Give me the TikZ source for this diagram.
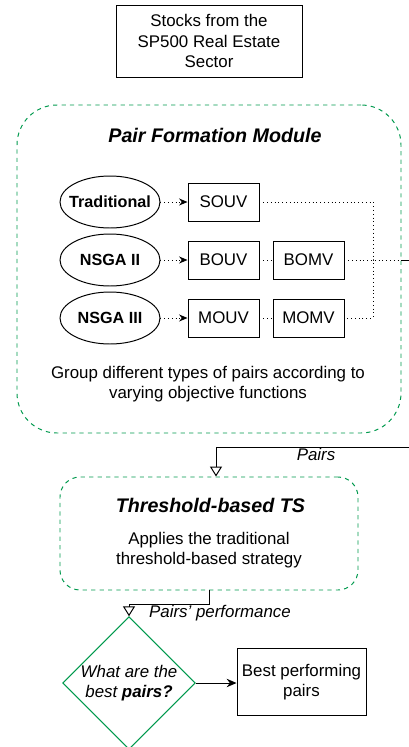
\documentclass[tikz,border=0pt]{standalone}
\usepackage{fontspec}
\setmainfont{Liberation Sans}
\usepackage{tikz}
\usetikzlibrary{arrows.meta}
\usetikzlibrary{positioning}
\usetikzlibrary{shapes.geometric}
\definecolor{modgreen}{RGB}{0,153,77}

\begin{document}
\begin{tikzpicture}[
    font=\fontsize{12}{14.4}\selectfont,
    line width=0.7pt,
    box/.style={draw, minimum width=1.775cm, minimum height=0.95cm},
    algo/.style={draw, ellipse, minimum width=2.5cm, minimum height=1.3cm, inner sep=0pt, font=\fontsize{11.5}{14}\selectfont\bfseries},
    module/.style={draw=modgreen, dash pattern=on 3pt off 3pt},
    headline/.style={font=\fontsize{14}{16}\selectfont\bfseries\itshape},
    note/.style={font=\fontsize{12}{14.4}\selectfont\itshape},
    feed/.style={-{Triangle[open, length=7pt, width=8.5pt]}},
    dotarrow/.style={dotted, -{Stealth[length=6pt, width=5pt]}},
]
    % page
    \useasboundingbox (0, 0) rectangle (10.225, -18.675);
    \clip (0, 0) rectangle (10.225, -18.675);

    % input
    \node[draw, align=center, minimum width=4.65cm, minimum height=1.8cm] (stocks) at (5.225, -1.025) {Stocks from the\\SP500 Real Estate\\Sector};

    % pair formation module
    \node[module, rounded corners=1cm, minimum width=9.6cm, minimum height=8.2cm] (module) at (5.225, -6.725) {};
    \node[headline] (modtitle) at (5.375, -3.375) {Pair Formation Module};

    \node[algo] (trad) at (2.75, -5.05) {\makebox[0pt]{Traditional}};
    \node[algo] (nsgatwo) at (2.75, -6.5) {\makebox[0pt]{NSGA II}};
    \node[algo] (nsgathree) at (2.75, -7.95) {\makebox[0pt]{NSGA III}};

    \node[box] (souv) at (5.5875, -5.05) {SOUV};
    \node[box] (bouv) at (5.5875, -6.5) {BOUV};
    \node[box] (bomv) at (7.7125, -6.5) {BOMV};
    \node[box] (mouv) at (5.5875, -7.95) {MOUV};
    \node[box] (momv) at (7.7125, -7.95) {MOMV};

    \foreach \a/\b in {trad/souv, nsgatwo/bouv, nsgathree/mouv} {
        \draw[dotarrow] (\a) -- (\b);
    }
    \draw[dotted] (bouv) -- (bomv);
    \draw[dotted] (mouv) -- (momv);

    \coordinate (joint) at (9.325, -6.5);
    \draw[dotted] (souv.east) -| (joint) |- (momv.east);
    \coordinate (out) at (module.east |- bomv);
    \draw[dotted] (bomv.east) -- (out);

    \node[align=center] (grouptxt) at (5.2, -9.6) {Group different types of pairs according to\\varying objective functions};

    % threshold-based trading
    \node[module, rounded corners=0.5cm, minimum width=7.45cm, minimum height=2.825cm] (ts) at (5.225, -13.3375) {};
    \node[headline] (tstitle) at (5.26, -12.625) {Threshold-based TS};
    \node[align=center] (tsbody) at (5.225, -13.75) {Applies the traditional\\threshold-based strategy};

    \coordinate (loop) at (10.6, -11.175);
    \draw[feed] (out) -| (loop) -| ([xshift=0.175cm]ts.north);
    \node[note] (pairslbl) at (7.9, -11.35) {Pairs};

    % decision
    \node[draw=modgreen, diamond, minimum width=3.2cm, minimum height=3.25cm, inner sep=0pt, align=center] (decide) at (3.225, -17.075) {\itshape What are the\\ \itshape best \textbf{pairs?}};
    \node[draw, align=center, minimum width=3.225cm, minimum height=1.675cm] (best) at (7.5375, -17.06) {Best performing\\pairs};

    \coordinate (bend) at (5.225, -15.1);
    \draw[feed] (ts.south) -- (bend) -| (decide.north);
    \node[note] (perflbl) at (5.5, -15.325) {Pairs' performance};

    \draw[-{Stealth[length=7pt, width=6pt]}] (decide.east) -- (decide.east -| best.west);
\end{tikzpicture}
\end{document}
